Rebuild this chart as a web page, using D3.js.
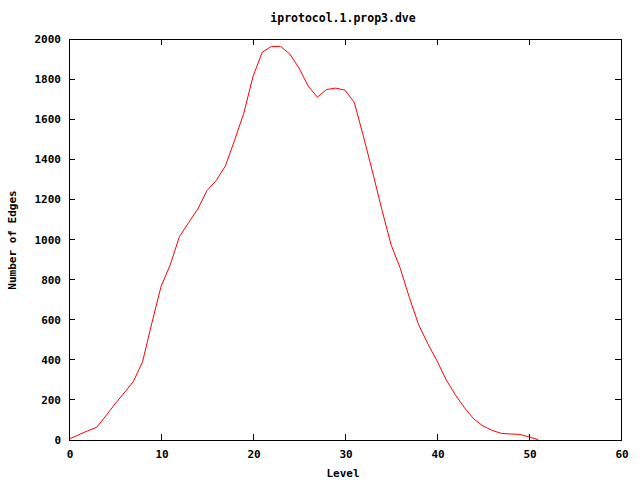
<!DOCTYPE html>
<html>
<head>
<meta charset="utf-8">
<script src="https://cdn.jsdelivr.net/npm/d3@7"></script>
<style>
  html, body { margin: 0; padding: 0; background: #fff; }
  svg { display: block; }
  text { font-family: "DejaVu Sans Mono", "Liberation Mono", monospace; font-weight: bold; font-size: 11px; fill: #000; }
</style>
</head>
<body>
<svg id="chart" width="640" height="480"></svg>
<script>
const title = "iprotocol.1.prop3.dve";
const xLabel = "Level";
const yLabel = "Number of Edges";
const levels = [0,1,2,3,4,5,6,7,8,9,10,11,12,13,14,15,16,17,18,19,20,21,22,23,24,25,26,27,28,29,30,31,32,33,34,35,36,37,38,39,40,41,42,43,44,45,46,47,48,49,50,51];
const edges  = [5,25,45,63,120,180,235,292,391,582,765,873,1014,1084,1152,1244,1294,1367,1495,1630,1813,1934,1963,1963,1925,1855,1765,1710,1748,1755,1745,1685,1515,1336,1150,975,857,710,575,480,395,300,225,160,105,70,48,33,30,28,15,2];
const xTicks = [0,10,20,30,40,50,60];
const yTicks = [0,200,400,600,800,1000,1200,1400,1600,1800,2000];

const svg = d3.select("#chart");
const L = 69, R = 621, T = 39, B = 440;
const x = d3.scaleLinear().domain([0, 60]).range([L, R]);
const y = d3.scaleLinear().domain([0, 2000]).range([B, T]);
const tk = 6;

// ticks inward on all sides
const g = svg.append("g").attr("stroke", "#000").attr("stroke-width", 1).attr("shape-rendering", "crispEdges");
xTicks.forEach(v => {
  g.append("line").attr("x1", x(v)).attr("x2", x(v)).attr("y1", B).attr("y2", B - tk);
  g.append("line").attr("x1", x(v)).attr("x2", x(v)).attr("y1", T).attr("y2", T + tk);
});
yTicks.forEach(v => {
  g.append("line").attr("x1", L).attr("x2", L + tk).attr("y1", y(v)).attr("y2", y(v));
  g.append("line").attr("x1", R).attr("x2", R - tk).attr("y1", y(v)).attr("y2", y(v));
});

// tick labels
svg.append("g").selectAll("text").data(xTicks).join("text")
  .attr("x", d => x(d) + 1).attr("y", 458).attr("text-anchor", "middle").text(d => d);
svg.append("g").selectAll("text").data(yTicks).join("text")
  .attr("x", 61).attr("y", d => y(d) + 4).attr("text-anchor", "end").text(d => d);

// data line
const line = d3.line().x((d, i) => x(levels[i])).y(d => y(d));
svg.append("path").datum(edges).attr("d", line)
  .attr("fill", "none").attr("stroke", "#ff0000").attr("stroke-width", 1);

// frame
svg.append("rect").attr("x", L).attr("y", T).attr("width", R - L).attr("height", B - T)
  .attr("fill", "none").attr("stroke", "#000").attr("stroke-width", 1).attr("shape-rendering", "crispEdges");

// titles
svg.append("text").attr("x", 343).attr("y", 22).attr("text-anchor", "middle").style("font-size", "11.5px").text(title);
svg.append("text").attr("x", 343).attr("y", 477).attr("text-anchor", "middle").text(xLabel);
svg.append("text").attr("transform", "translate(16,240) rotate(-90)").attr("text-anchor", "middle").text(yLabel);
</script>
</body>
</html>
